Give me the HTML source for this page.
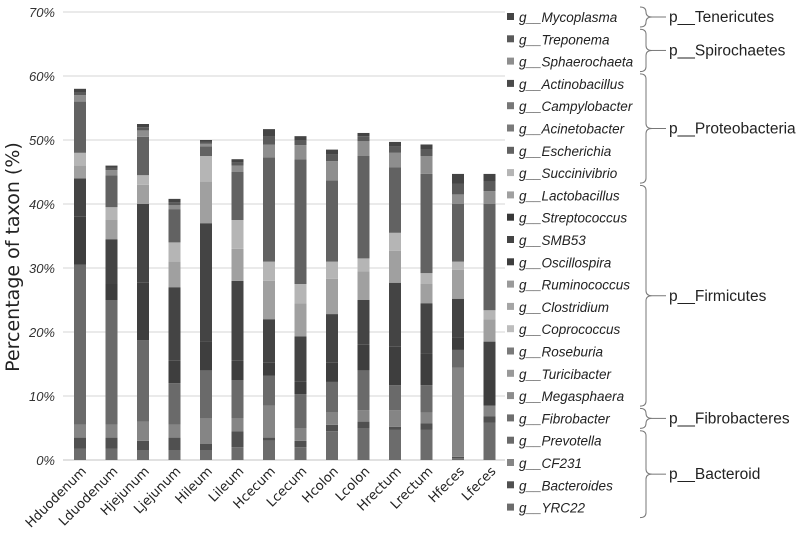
<!DOCTYPE html>
<html><head><meta charset="utf-8"><style>
html,body{margin:0;padding:0;background:#fff;width:796px;height:536px;overflow:hidden}
svg text{font-family:"Liberation Sans",sans-serif}
</style></head><body>
<svg id="chart" width="796" height="536" viewBox="0 0 796 536" xmlns="http://www.w3.org/2000/svg">
<g id="grid"></g>
<g id="yticks"></g>
<g id="bars"></g>
<g id="xlabels"></g>
<text transform="translate(19,257) rotate(-90)" text-anchor="middle" font-size="19" fill="#222" style="font-family:'DejaVu Sans',sans-serif">Percentage of taxon (%)</text>
<g id="legend"></g>
<g id="braces"></g>
</svg>
<script>
const categories=["Hduodenum","Lduodenum","Hjejunum","Ljejunum","Hileum","Lileum","Hcecum","Lcecum","Hcolon","Lcolon","Hrectum","Lrectum","Hfeces","Lfeces"];
const yTicks=[0,10,20,30,40,50,60,70];
const yTickLabels=["0%","10%","20%","30%","40%","50%","60%","70%"];
const seriesNames=["g__YRC22","g__Bacteroides","g__CF231","g__Prevotella","g__Fibrobacter","g__Megasphaera","g__Turicibacter","g__Roseburia","g__Coprococcus","g__Clostridium","g__Ruminococcus","g__Oscillospira","g__SMB53","g__Streptococcus","g__Lactobacillus","g__Succinivibrio","g__Escherichia","g__Acinetobacter","g__Campylobacter","g__Actinobacillus","g__Sphaerochaeta","g__Treponema","g__Mycoplasma"];
const seriesColors=["#6c6c6c","#505050","#858585","#6a6a6a","#6e6e6e","#8c8c8c","#999999","#7a7a7a","#bdbdbd","#a5a5a5","#9a9a9a","#3e3e3e","#444444","#383838","#a0a0a0","#b5b5b5","#626262","#7a7a7a","#777777","#4a4a4a","#8e8e8e","#5a5a5a","#444444"];
const YRC22=[1.8,1.8,1.5,1.5,1.5,2,3,2,4.5,5,4.7,4.7,0.3,5.8];
const Bacteroides=[1.7,1.7,1.5,2,1,2.5,0.5,1,1,1,0.5,1,0.2,1];
const CF231=[2,2,3,2,4,2,5,2,2,1.8,2.6,1.7,13.9,1.7];
const Prevotella=[25,19.5,12.7,6.5,7.5,6,4.7,5.3,4.7,6.2,3.9,4.3,2.8,0];
const Fibrobacter=[0,0,0,0,0,0,0,0,0,0,0,0,0,0];
const Megasphaera=[0,0,0,0,0,0,0,0,0,0,0,0,0,0];
const Turicibacter=[0,0,0,0,0,0,0,0,0,0,0,0,0,0];
const Roseburia=[0,0,0,0,0,0,0,0,0,0,0,0,0,0];
const Coprococcus=[0,0,0,0,0,0,0,0,0,0,0,0,0,0];
const Clostridium=[0,0,0,0,0,0,0,0,0,0,0,0,0,0];
const Ruminococcus=[0,0,0,0,0,0,0,0,0,0,0,0,0,0];
const Oscillospira=[7.5,2.5,9,3.5,4.5,3,2,2,3,4,6,5,2,4];
const SMB53=[6,7,12.3,11.5,18.5,12.5,6.8,7,7.6,7,10,7.8,6,6];
const Streptococcus=[0,0,0,0,0,0,0,0,0,0,0,0,0,0];
const Lactobacillus=[2,3,3,4,6.5,5,6,5.2,5.5,4.5,5,3,4.5,3.5];
const Succinivibrio=[2,2,1.5,3,4,4.5,3,3,2.7,2,2.8,1.7,1.3,1.4];
const Escherichia=[8,5,6,5.2,1.5,7.5,16.3,19.5,12.7,16,10.2,15.5,9,16.6];
const Acinetobacter=[0,0,0,0,0,0,0,0,0,0,0,0,0,0];
const Campylobacter=[0,0,0,0,0,0,0,0,0,0,0,0,0,0];
const Actinobacillus=[0,0,0,0,0,0,0,0,0,0,0,0,0,0];
const Sphaerochaeta=[1,0.8,1,0.6,0.4,1,2,2.2,3,2.3,2.3,2.8,1.5,2];
const Treponema=[0.5,0.4,0.5,0.5,0.3,0.5,1.2,0.8,1,0.8,1,1,1.7,1.5];
const Mycoplasma=[0.5,0.3,0.5,0.5,0.3,0.5,1.2,0.6,0.8,0.5,0.7,0.8,1.5,1.2];
const seriesValues=[YRC22,Bacteroides,CF231,Prevotella,Fibrobacter,Megasphaera,Turicibacter,Roseburia,Coprococcus,Clostridium,Ruminococcus,Oscillospira,SMB53,Streptococcus,Lactobacillus,Succinivibrio,Escherichia,Acinetobacter,Campylobacter,Actinobacillus,Sphaerochaeta,Treponema,Mycoplasma];
const phyla=["p__Tenericutes","p__Spirochaetes","p__Proteobacteria","p__Firmicutes","p__Fibrobacteres","p__Bacteroid"];
const phylumFirst=[0,1,3,8,18,19];
const phylumLast=[0,2,7,17,18,22];

const NS="http://www.w3.org/2000/svg";
const plotL=63,plotR=505,y0=460,pxPer=6.4,barW=12,step=31.5,firstX=80;
const yScale=v=>y0-v*pxPer;
const xScale=i=>firstX+i*step;
function mk(tag,attrs,parent){const e=document.createElementNS(NS,tag);for(const k in attrs)e.setAttribute(k,attrs[k]);parent.appendChild(e);return e;}
const gridG=document.getElementById('grid'),ytG=document.getElementById('yticks');
yTicks.forEach((t,i)=>{
  const l=mk('line',{x1:plotL,x2:plotR,y1:yScale(t),y2:yScale(t),stroke:i===0?'#cfcfcf':'#dedede','stroke-width':1.3},gridG);
  
  
  const tx=mk('text',{x:55,y:yScale(t)+5,'text-anchor':'end','font-size':13,'font-style':'italic',fill:'#333'},ytG);
  tx.textContent=yTickLabels[i];
  
  
});
const barsG=document.getElementById('bars'),xlG=document.getElementById('xlabels');
categories.forEach((c,i)=>{
  let acc=0;
  const g=mk('g',{},barsG);
  
  
  seriesValues.forEach((arr,s)=>{
    const v=arr[i];if(!v)return;
    const r=mk('rect',{x:xScale(i)-barW/2,y:yScale(acc+v),width:barW,height:v*pxPer,fill:seriesColors[s]},g);
    
    
    acc+=v;
  });
  const t=mk('text',{x:0,y:0,'text-anchor':'end','font-size':13,fill:'#222',style:"font-family:'DejaVu Sans',sans-serif",transform:`translate(${xScale(i)+7},${y0+12}) rotate(-45)`},xlG);
  t.textContent=c;
  
  
});
const lgG=document.getElementById('legend');
const legTop=17,legStep=22.3;
const legendOrder=seriesNames.map((n,i)=>i).reverse();
legendOrder.forEach((s,k)=>{
  const cy=legTop+k*legStep;
  const g=mk('g',{},lgG);
  
  
  mk('rect',{x:507,y:cy-4,width:7,height:7,fill:seriesColors[s]},g);
  const t=mk('text',{x:519,y:cy+5,'font-size':13.5,'font-style':'italic',fill:'#222'},g);
  t.textContent=seriesNames[s];
});
const brG=document.getElementById('braces');
phyla.forEach((p,i)=>{
  const a=legTop+phylumFirst[i]*legStep-10,b=legTop+phylumLast[i]*legStep+10,m=(a+b)/2,x=640;
  const path=`M${x},${a} q6,0 6,5 V${m-5} q0,5 6,5 q-6,0 -6,5 V${b-5} q0,5 -6,5`;
  const g=mk('g',{},brG);
  
  
  mk('path',{d:path,fill:'none',stroke:'#777','stroke-width':1},g);
  mk('line',{x1:652,x2:666,y1:m,y2:m,stroke:'#777','stroke-width':1},g);
  const t=mk('text',{x:669,y:m+5,'font-size':15.5,fill:'#222'},g);
  t.textContent=p;
});
</script>
</body></html>
